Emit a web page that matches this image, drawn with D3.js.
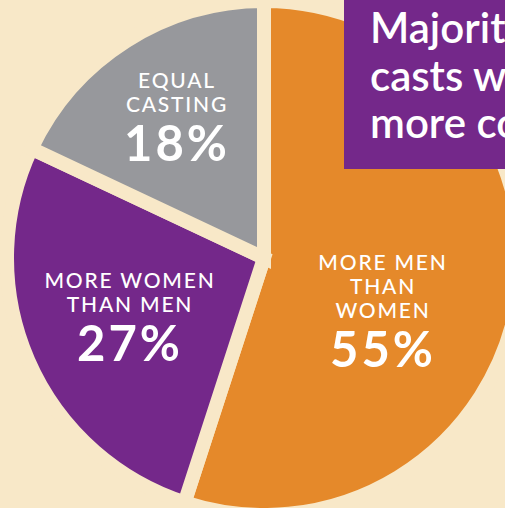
<!DOCTYPE html>
<html>
<head>
<meta charset="utf-8">
<script src="https://cdn.jsdelivr.net/npm/d3@7"></script>
<style>
  html, body { margin: 0; padding: 0; background: #f8e8c8; overflow: hidden; }
  svg { display: block; font-family: Lato, "Open Sans", sans-serif; }
</style>
</head>
<body>
<div id="chart"></div>
<script>
var width = 505
var height = 508

// data
var categories = ["More men than women", "More women than men", "Equal casting"]
var shares = [55, 27, 18]
var labelLines = [["MORE MEN", "THAN", "WOMEN"], ["MORE WOMEN", "THAN MEN"], ["EQUAL", "CASTING"]]
var titleLines = ["Majority of", "casts with", "more con"]

var colors = ["#e5892a", "#74288a", "#97989c"]
var bg = "#f8e8c8"

var cx = 264, cy = 258
var radius = 257

// first-line baseline of each label block, relative to pie centre
var labelPos = [[119, 12], [-134, 30], [-87, -170]]

var svg = d3.select("#chart").append("svg")
  .attr("width", width)
  .attr("height", height)
  .style("background", bg)

var pie = d3.pie().sort(null).value(d => d)
var arc = d3.arc().innerRadius(0).outerRadius(radius)

var g = svg.append("g")
  .attr("transform", `translate(${cx},${cy})`)

g.selectAll("path")
  .data(pie(shares))
  .enter()
  .append("path")
  .attr("d", arc)
  .attr("fill", (d, i) => colors[i])
  .attr("stroke", bg)
  .attr("stroke-width", 14)
  .attr("stroke-linejoin", "miter")

// slice labels
var lab = g.selectAll(".lab")
  .data(pie(shares))
  .enter()
  .append("g")
  .attr("class", "lab")
  .attr("transform", (d, i) => `translate(${labelPos[i][0]},${labelPos[i][1]})`)

lab.each(function(d, i) {
  var sel = d3.select(this)
  labelLines[i].forEach((t, j) => {
    sel.append("text")
      .attr("y", j * 24)
      .attr("text-anchor", "middle")
      .attr("fill", "#fff")
      .style("font-size", "21px")
      .style("font-weight", 500)
      .style("letter-spacing", "1.8px")
      .text(t)
  })
  sel.append("text")
    .attr("y", (labelLines[i].length - 1) * 24 + 49)
    .attr("text-anchor", "middle")
    .attr("fill", "#fff")
    .style("font-size", "49px")
    .style("font-weight", 700)
    .style("letter-spacing", "3px")
    .text(d.data + "%")
})

// title box, cut off by the right edge
svg.append("rect")
  .attr("x", 344)
  .attr("y", -2)
  .attr("width", 200)
  .attr("height", 171)
  .attr("fill", "#74288a")

titleLines.forEach((t, i) => {
  svg.append("text")
    .attr("x", 370)
    .attr("y", 43 + i * 47.5)
    .attr("fill", "#fff")
    .style("font-size", "42px")
    .style("font-weight", 600)
    .text(t)
})
</script>
</body>
</html>
